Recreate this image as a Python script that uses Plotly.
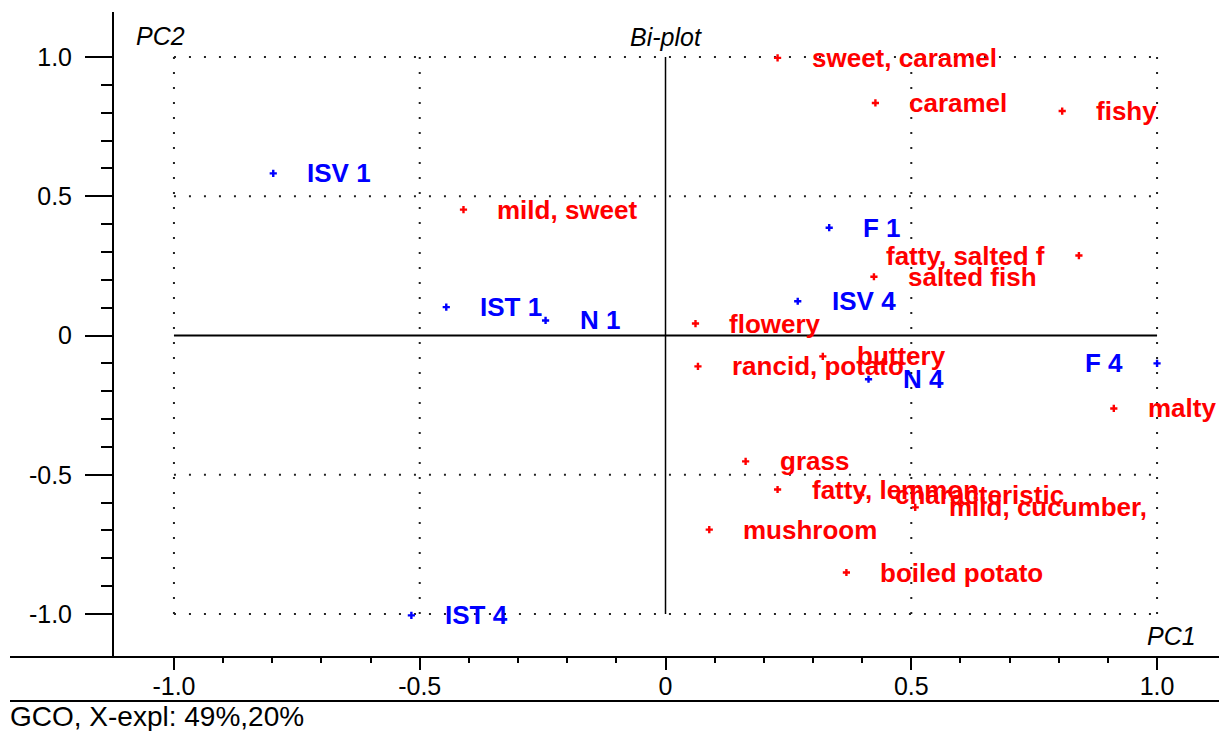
import plotly.graph_objects as go

# ---- data ----
sample_names = ["ISV 1", "IST 1", "N 1", "F 1", "ISV 4", "N 4", "F 4", "IST 4"]
sample_pc1 = [-0.798, -0.446, -0.244, 0.333, 0.269, 0.413, 1.0, -0.517]
sample_pc2 = [0.582, 0.102, 0.054, 0.387, 0.123, -0.157, -0.100, -1.005]
sample_label_side = ["r", "r", "r", "r", "r", "r", "l", "r"]

attr_names = ["sweet, caramel", "caramel", "fishy", "mild, sweet", "fatty, salted f",
              "salted fish", "flowery", "buttery", "rancid, potato", "malty", "grass",
              "fatty, lemmon", "characteristic", "mild, cucumber,", "mushroom", "boiled potato"]
attr_pc1 = [0.228, 0.427, 0.807, -0.411, 0.841, 0.424, 0.061, 0.320, 0.066, 0.912, 0.163,
            0.228, 0.397, 0.508, 0.089, 0.368]
attr_pc2 = [0.997, 0.835, 0.806, 0.452, 0.287, 0.211, 0.043, -0.075, -0.111, -0.262, -0.452,
            -0.553, -0.573, -0.617, -0.697, -0.851]
attr_label_side = ["r", "r", "r", "r", "l", "r", "r", "r", "r", "r", "r",
                   "r", "r", "r", "r", "r"]

x_tickvals = [-1.0, -0.5, 0.0, 0.5, 1.0]
x_ticktext = ["-1.0", "-0.5", "0", "0.5", "1.0"]
y_tickvals = [-1.0, -0.5, 0.0, 0.5, 1.0]
y_ticktext = ["-1.0", "-0.5", "0", "0.5", "1.0"]
minor_tickvals = [-1.0, -0.9, -0.8, -0.7, -0.6, -0.5, -0.4, -0.3, -0.2, -0.1, 0.0,
                  0.1, 0.2, 0.3, 0.4, 0.5, 0.6, 0.7, 0.8, 0.9, 1.0]
grid_vals = [-1.0, -0.5, 0.5, 1.0]

RED = "#ff0000"
BLUE = "#0000ff"
LABEL_FONT = "Liberation Sans"

W, H = 1219, 731
def px_x(p):
    return p / W
def px_y(p):
    return (H - p) / H

fig = go.Figure()

fig.add_trace(go.Scatter(x=attr_pc1, y=attr_pc2, mode="markers",
                         marker=dict(symbol="cross", size=6, color=RED, line=dict(width=0)),
                         hoverinfo="text", text=attr_names, showlegend=False))
fig.add_trace(go.Scatter(x=sample_pc1, y=sample_pc2, mode="markers",
                         marker=dict(symbol="cross", size=6, color=BLUE, line=dict(width=0)),
                         hoverinfo="text", text=sample_names, showlegend=False))

annotations = []
def add_labels(names, xs, ys, sides, color):
    for n, x, y, s in zip(names, xs, ys, sides):
        annotations.append(dict(
            x=x, y=y, xref="x", yref="y", text=n, showarrow=False,
            xanchor="left" if s == "r" else "right", yanchor="middle",
            xshift=32 if s == "r" else -32,
            font=dict(family=LABEL_FONT, size=26, color=color, weight="bold")))

add_labels(attr_names, attr_pc1, attr_pc2, attr_label_side, RED)
add_labels(sample_names, sample_pc1, sample_pc2, sample_label_side, BLUE)

ital = dict(family=LABEL_FONT, size=25, color="black", style="italic")
annotations += [
    dict(x=0, y=px_y(37), xref="x", yref="paper", text="Bi-plot", showarrow=False,
         xanchor="center", yanchor="middle", font=ital),
    dict(x=px_x(160), y=px_y(36), xref="paper", yref="paper", text="PC2", showarrow=False,
         xanchor="center", yanchor="middle", font=ital),
    dict(x=px_x(1171), y=px_y(636), xref="paper", yref="paper", text="PC1", showarrow=False,
         xanchor="center", yanchor="middle", font=ital),
    dict(x=px_x(8), y=px_y(716), xref="paper", yref="paper", text="GCO, X-expl: 49%,20%",
         showarrow=False, xanchor="left", yanchor="middle",
         font=dict(family=LABEL_FONT, size=28, color="black")),
]

shapes = []
dot = dict(color="#222222", width=2, dash="2px,13px")
for g in grid_vals:
    shapes.append(dict(type="line", xref="x", yref="y", x0=-1, x1=1, y0=g, y1=g, line=dot, layer="below"))
    shapes.append(dict(type="line", xref="x", yref="y", x0=g, x1=g, y0=-1, y1=1, line=dot, layer="below"))
shapes.append(dict(type="line", xref="x", yref="y", x0=-1, x1=1, y0=0, y1=0,
                   line=dict(color="black", width=2), layer="below"))
shapes.append(dict(type="line", xref="x", yref="y", x0=0, x1=0, y0=-1, y1=1,
                   line=dict(color="black", width=1.5), layer="below"))
# frame lines
shapes.append(dict(type="line", xref="paper", yref="paper", x0=px_x(113), x1=px_x(113),
                   y0=px_y(12), y1=px_y(657), line=dict(color="black", width=2)))
shapes.append(dict(type="line", xref="paper", yref="paper", x0=px_x(10), x1=1,
                   y0=px_y(657), y1=px_y(657), line=dict(color="black", width=2)))
shapes.append(dict(type="line", xref="paper", yref="paper", x0=px_x(10), x1=1,
                   y0=px_y(701), y1=px_y(701), line=dict(color="black", width=2)))

tickfont = dict(family=LABEL_FONT, size=25, color="black")
fig.update_layout(
    width=W, height=H, margin=dict(l=0, r=0, t=0, b=0),
    paper_bgcolor="white", plot_bgcolor="white",
    showlegend=False, annotations=annotations, shapes=shapes,
    xaxis=dict(domain=[px_x(113), 1.0], range=[-1.124, 1.126],
               tickvals=x_tickvals, ticktext=x_ticktext, ticks="outside",
               ticklen=12, tickwidth=2, tickcolor="black", tickfont=tickfont,
               ticklabelstandoff=-5,
               minor=dict(tickvals=minor_tickvals, ticks="outside", ticklen=5,
                          tickwidth=2, tickcolor="black"),
               showgrid=False, zeroline=False, showline=False, fixedrange=True),
    yaxis=dict(domain=[px_y(657), px_y(12)], range=[-1.1544, 1.1616],
               tickvals=y_tickvals, ticktext=y_ticktext, ticks="outside",
               ticklen=27, tickwidth=2, tickcolor="black", tickfont=tickfont,
               ticklabelstandoff=8,
               minor=dict(tickvals=minor_tickvals, ticks="outside", ticklen=11,
                          tickwidth=2, tickcolor="black"),
               showgrid=False, zeroline=False, showline=False, fixedrange=True),
)

fig.write_html("out.html")
